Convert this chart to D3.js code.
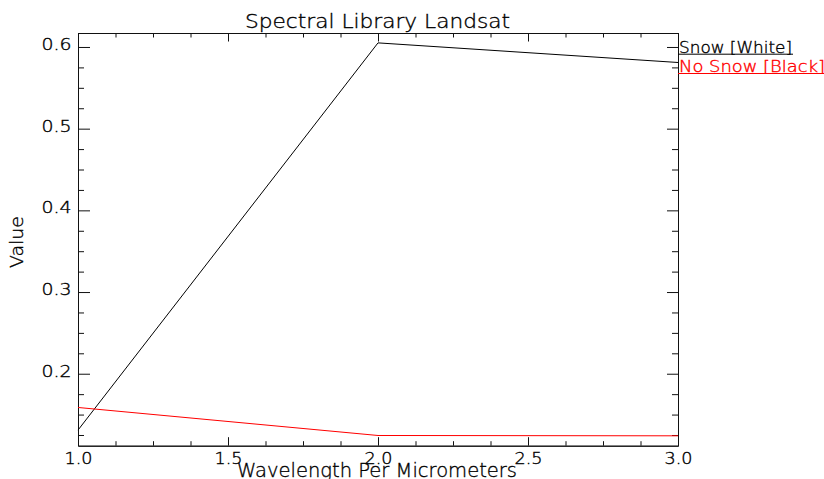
<!DOCTYPE html>
<html>
<head>
<meta charset="utf-8">
<script src="https://cdn.jsdelivr.net/npm/d3@7"></script>
<style>
  body { margin: 0; background: #fff; }
  svg text { font-family: 'DejaVu Sans', sans-serif; font-weight: 200; stroke-width: 0.35px; }
</style>
</head>
<body>
<svg id="chart"></svg>
<script>
// data
const wavelengths = [1.0, 2.0, 3.0];
const snow = [0.131, 0.605, 0.581];
const noSnow = [0.1587, 0.1244, 0.124];
const seriesNames = ['Snow [White]', 'No Snow [Black]'];
const seriesColors = ['#000000', '#ff0000'];
const xTicks = [1.0, 1.5, 2.0, 2.5, 3.0];
const yTicks = [0.2, 0.3, 0.4, 0.5, 0.6];

const W = 824, H = 479;
const plotLeft = 78, plotRight = 678, plotTop = 33, plotBottom = 445.7;

const svg = d3.select('#chart')
  .attr('width', W)
  .attr('height', H);

const x = d3.scaleLinear().domain([1, 3]).range([plotLeft, plotRight]);
const y = d3.scaleLinear().domain([0.1119, 0.6171]).range([plotBottom, plotTop]);

const xMinor = d3.range(1, 3.0001, 0.125).filter(function(v){ return xTicks.indexOf(+v.toFixed(3)) < 0; });
const yMinor = d3.range(0.125, 0.6171, 0.025).filter(function(v){ return yTicks.indexOf(+v.toFixed(3)) < 0; });

const axisColor = '#111';

function drawAxis(gen, tx, ty) {
  const g = svg.append('g').attr('transform', 'translate(' + tx + ',' + ty + ')').call(gen);
  g.select('.domain').attr('stroke', axisColor);
  g.selectAll('.tick line').attr('stroke', axisColor);
  return g;
}

// bottom
drawAxis(d3.axisTop(x).tickValues(xMinor).tickSize(4.5).tickFormat('').tickSizeOuter(0), 0, plotBottom);
const gx = drawAxis(d3.axisTop(x).tickValues(xTicks).tickSize(8.5).tickSizeOuter(0).tickFormat(d3.format('.1f')), 0, plotBottom);
gx.selectAll('.tick text')
  .attr('y', 18.3)
  .attr('dy', null)
  .attr('fill', '#000')
  .attr('stroke', '#000')
  .attr('font-size', 15)
  .attr('text-anchor', 'middle')
  .attr('textLength', 28)
  .attr('lengthAdjust', 'spacingAndGlyphs');

// top
drawAxis(d3.axisBottom(x).tickValues(xMinor).tickSize(4.5).tickFormat('').tickSizeOuter(0), 0, plotTop);
drawAxis(d3.axisBottom(x).tickValues(xTicks).tickSize(8.5).tickFormat('').tickSizeOuter(0), 0, plotTop);

// left
drawAxis(d3.axisRight(y).tickValues(yMinor).tickSize(6).tickFormat('').tickSizeOuter(0), plotLeft, 0);
const gy = drawAxis(d3.axisRight(y).tickValues(yTicks).tickSize(12).tickSizeOuter(0).tickFormat(d3.format('.1f')), plotLeft, 0);
gy.selectAll('.tick text')
  .attr('x', -6.5)
  .attr('dy', null)
  .attr('y', 2.5)
  .attr('fill', '#000')
  .attr('stroke', '#000')
  .attr('font-size', 15)
  .attr('text-anchor', 'end')
  .attr('textLength', 30)
  .attr('lengthAdjust', 'spacingAndGlyphs');

// right
drawAxis(d3.axisLeft(y).tickValues(yMinor).tickSize(6).tickFormat('').tickSizeOuter(0), plotRight, 0);
drawAxis(d3.axisLeft(y).tickValues(yTicks).tickSize(11).tickFormat('').tickSizeOuter(0), plotRight, 0);

// lines
const line = d3.line()
  .x(function(d, i){ return x(wavelengths[i]); })
  .y(function(d){ return y(d); });

[snow, noSnow].forEach(function(s, i){
  svg.append('path')
    .attr('d', line(s))
    .attr('fill', 'none')
    .attr('stroke', seriesColors[i])
    .attr('stroke-width', 1);
});

// titles
svg.append('text')
  .attr('x', 377.5).attr('y', 27.7)
  .attr('text-anchor', 'middle')
  .attr('font-size', 19)
  .attr('stroke', '#000')
  .attr('textLength', 265)
  .attr('lengthAdjust', 'spacingAndGlyphs')
  .text('Spectral Library Landsat');

svg.append('text')
  .attr('x', 377).attr('y', 477)
  .attr('text-anchor', 'middle')
  .attr('font-size', 19)
  .attr('stroke', '#000')
  .attr('textLength', 280)
  .attr('lengthAdjust', 'spacingAndGlyphs')
  .text('Wavelength Per Micrometers');

svg.append('text')
  .attr('transform', 'translate(23,242) rotate(-90)')
  .attr('text-anchor', 'middle')
  .attr('font-size', 18)
  .attr('stroke', '#000')
  .attr('textLength', 52)
  .attr('lengthAdjust', 'spacingAndGlyphs')
  .text('Value');

// legend
const legendY = [52.7, 72];
const legendLen = [113, 146];
seriesNames.forEach(function(name, i){
  svg.append('text')
    .attr('x', plotRight + 1).attr('y', legendY[i])
    .attr('font-size', 15)
    .attr('fill', seriesColors[i])
    .attr('stroke', seriesColors[i])
    .attr('textLength', legendLen[i])
    .attr('lengthAdjust', 'spacingAndGlyphs')
    .text(name);
  svg.append('line')
    .attr('x1', plotRight).attr('x2', plotRight + legendLen[i] + 2)
    .attr('y1', legendY[i] + 1.5).attr('y2', legendY[i] + 1.5)
    .attr('stroke', seriesColors[i])
    .attr('stroke-width', 1);
});
</script>
</body>
</html>
